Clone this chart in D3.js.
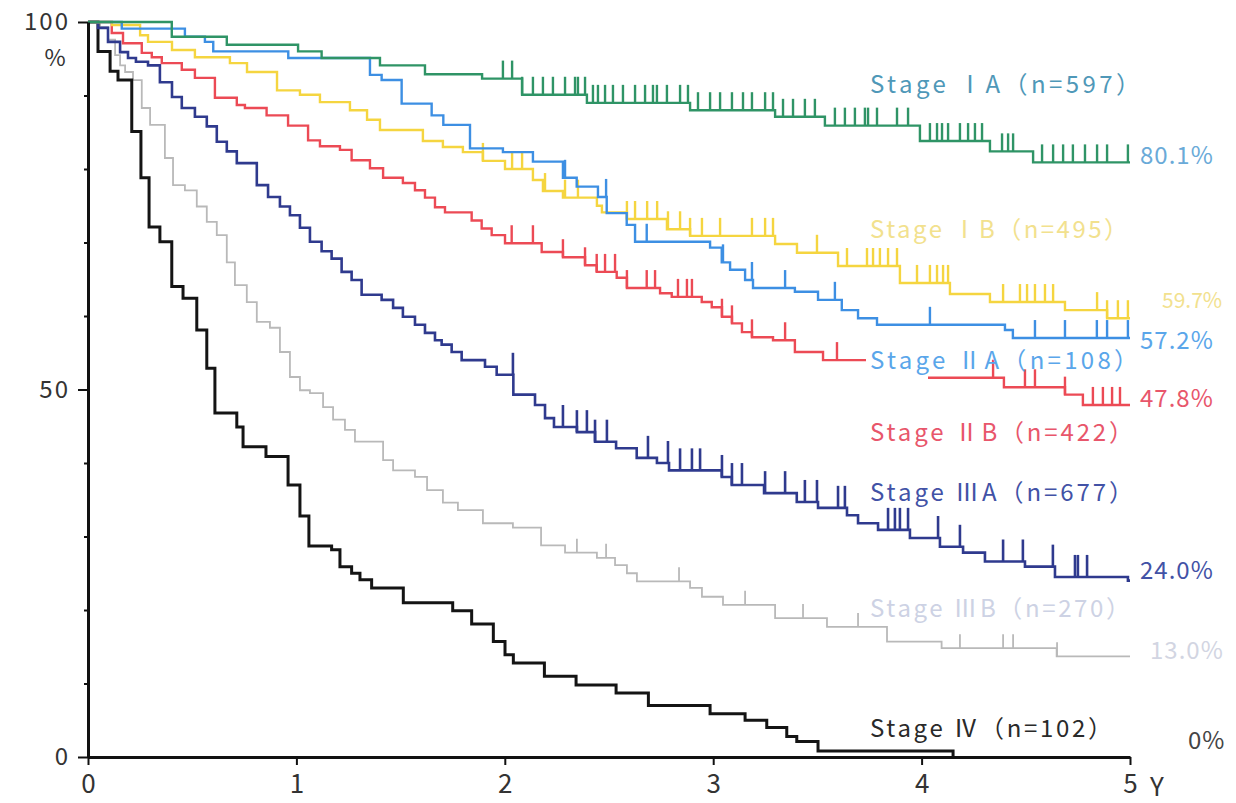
<!DOCTYPE html>
<html><head><meta charset="utf-8">
<script src="https://cdn.jsdelivr.net/npm/d3@7"></script>
<style>
html,body{margin:0;padding:0;background:#fff;}
svg{display:block;}
text{font-family:"Noto Sans CJK JP","Noto Sans",sans-serif;}
</style></head>
<body>
<svg id="chart" width="1236" height="803"></svg>
<script>
// ---- data (years, survival %) ----
const xTicks = [0, 1, 2, 3, 4, 5];
const yMajorTicks = [0, 50, 100];
const yMinorTicks = [10, 20, 30, 40, 60, 70, 80, 90];

const stageNames = ["Stage ⅠA", "Stage ⅠB", "Stage ⅡA", "Stage ⅡB", "Stage ⅢA", "Stage ⅢB", "Stage Ⅳ"];
const stageN = [597, 495, 108, 422, 677, 270, 102];
const stagePct = ["80.1%", "59.7%", "57.2%", "47.8%", "24.0%", "13.0%", "0%"];

const iaT = [0, 0.402, 0.666, 1.008, 1.121, 1.401, 1.617, 1.891, 2.083, 2.394, 2.889, 3.297, 3.536, 3.992, 4.328, 4.535];
const iaS = [100, 98.0, 96.9, 96.0, 95.1, 94.1, 92.9, 92.3, 90.1, 89.0, 88.0, 87.1, 85.9, 83.8, 82.4, 80.9];
const iaC = [1.991, 2.035, 2.083, 2.135, 2.183, 2.231, 2.289, 2.337, 2.351, 2.385, 2.423, 2.447, 2.481, 2.519, 2.567, 2.625, 2.673, 2.711, 2.730, 2.778, 2.841, 2.879, 2.927, 2.985, 3.033, 3.090, 3.143, 3.186, 3.249, 3.287, 3.335, 3.383, 3.440, 3.488, 3.584, 3.632, 3.680, 3.728, 3.743, 3.786, 3.882, 3.935, 4.040, 4.074, 4.098, 4.127, 4.184, 4.223, 4.256, 4.290, 4.386, 4.415, 4.439, 4.578, 4.631, 4.679, 4.726, 4.784, 4.842, 4.890, 4.990];

const ibT = [0, 0.115, 0.250, 0.288, 0.403, 0.513, 0.681, 0.763, 0.907, 1.017, 1.113, 1.257, 1.339, 1.401, 1.607, 1.703, 1.799, 1.895, 2.001, 2.135, 2.183, 2.279, 2.442, 2.466, 2.586, 2.778, 2.889, 3.297, 3.402, 3.599, 3.896, 4.136, 4.328, 4.688, 4.890];
const ibS = [100, 99.6, 98.2, 97.3, 96.2, 95.2, 94.4, 93.2, 90.7, 90.1, 89.1, 88.0, 86.7, 85.3, 83.8, 83.0, 82.3, 81.1, 80.0, 78.5, 77.0, 76.1, 75.0, 74.1, 73.2, 71.8, 70.9, 69.8, 68.6, 66.8, 64.5, 63.0, 61.9, 60.8, 59.7];
const ibC = [1.895, 2.035, 2.083, 2.193, 2.289, 2.351, 2.586, 2.625, 2.683, 2.731, 2.783, 2.841, 2.889, 2.946, 3.033, 3.186, 3.249, 3.287, 3.498, 3.642, 3.738, 3.767, 3.800, 3.839, 3.882, 3.978, 4.040, 4.074, 4.103, 4.127, 4.391, 4.472, 4.506, 4.544, 4.592, 4.631, 4.842, 4.890, 4.942, 4.990];

const iiaT = [0, 0.162, 0.465, 0.561, 0.601, 0.961, 1.353, 1.409, 1.505, 1.649, 1.705, 1.833, 1.991, 2.135, 2.279, 2.345, 2.447, 2.489, 2.585, 2.625, 2.985, 3.041, 3.081, 3.153, 3.191, 3.392, 3.503, 3.617, 3.695, 3.786, 4.400, 4.438];
const iiaS = [100, 99.1, 98.0, 97.3, 96.0, 95.1, 92.8, 92.1, 88.9, 87.3, 86.0, 82.8, 82.3, 81.0, 78.8, 77.6, 76.2, 74.0, 72.4, 70.1, 69.3, 67.3, 66.3, 64.9, 63.8, 63.3, 62.2, 60.8, 59.7, 58.8, 58.1, 57.0];
const iiaC = [2.289, 2.486, 2.681, 3.047, 3.186, 3.345, 3.584, 4.040, 4.544, 4.688, 4.841, 4.890, 4.990];

const iibT = [0, 0.114, 0.168, 0.258, 0.306, 0.354, 0.450, 0.513, 0.609, 0.714, 0.753, 0.857, 0.960, 1.056, 1.113, 1.209, 1.265, 1.353, 1.416, 1.511, 1.569, 1.617, 1.665, 1.713, 1.841, 1.889, 1.937, 2.001, 2.177, 2.279, 2.385, 2.441, 2.537, 2.586, 2.745, 2.801, 2.945, 2.993, 3.042, 3.090, 3.138, 3.186, 3.287, 3.392, 3.527, 3.920, 4.395, 4.688, 4.774];
const iibS = [100, 98.5, 97.1, 95.8, 95.2, 94.4, 93.5, 92.4, 89.7, 88.7, 88.3, 87.3, 85.9, 83.9, 83.1, 82.6, 81.2, 80.1, 78.8, 78.1, 77.1, 76.1, 74.8, 74.1, 73.0, 71.9, 71.0, 69.9, 68.7, 68.0, 66.9, 66.0, 65.2, 63.8, 63.1, 62.6, 61.9, 61.2, 59.9, 59.0, 57.8, 57.1, 56.7, 55.1, 54.0, 51.6, 50.3, 49.3, 47.9];
const iibC = [2.033, 2.135, 2.279, 2.385, 2.441, 2.481, 2.529, 2.586, 2.681, 2.721, 2.831, 2.874, 2.898, 3.042, 3.090, 3.186, 3.345, 3.594, 3.944, 4.343, 4.496, 4.544, 4.688, 4.822, 4.870, 4.914, 4.952];

const iiiaT = [0, 0.048, 0.096, 0.154, 0.192, 0.230, 0.288, 0.345, 0.403, 0.450, 0.513, 0.570, 0.618, 0.666, 0.714, 0.810, 0.864, 0.921, 0.969, 1.017, 1.065, 1.121, 1.169, 1.217, 1.265, 1.313, 1.409, 1.464, 1.511, 1.569, 1.617, 1.665, 1.697, 1.745, 1.793, 1.905, 1.961, 2.041, 2.145, 2.193, 2.236, 2.346, 2.433, 2.534, 2.633, 2.730, 2.788, 3.041, 3.089, 3.244, 3.401, 3.503, 3.642, 3.695, 3.791, 3.944, 4.088, 4.199, 4.304, 4.496, 4.640, 4.990];
const iiiaS = [100, 99.2, 97.3, 95.9, 95.1, 94.6, 94.1, 91.8, 89.8, 88.3, 87.1, 85.8, 83.7, 82.4, 80.8, 77.8, 76.2, 74.9, 73.7, 72.0, 70.1, 68.8, 67.8, 66.0, 64.9, 62.9, 62.2, 61.1, 59.9, 58.8, 57.7, 56.7, 56.1, 55.1, 54.0, 53.1, 52.0, 49.3, 47.9, 46.1, 44.9, 44.2, 42.9, 42.0, 40.7, 40.0, 39.0, 38.1, 37.0, 35.9, 34.7, 33.9, 32.9, 31.8, 30.9, 29.8, 28.6, 27.8, 26.6, 25.9, 24.5, 24.0];
const iiiaC = [2.039, 2.279, 2.346, 2.394, 2.433, 2.490, 2.687, 2.783, 2.841, 2.898, 2.937, 3.042, 3.090, 3.138, 3.249, 3.345, 3.440, 3.498, 3.599, 3.632, 3.839, 3.872, 3.896, 3.935, 4.079, 4.184, 4.391, 4.486, 4.630, 4.736, 4.750, 4.794];

const iiibT = [0, 0.058, 0.096, 0.130, 0.154, 0.178, 0.216, 0.258, 0.298, 0.369, 0.408, 0.465, 0.522, 0.570, 0.618, 0.666, 0.705, 0.762, 0.810, 0.873, 0.921, 0.969, 1.017, 1.065, 1.128, 1.176, 1.233, 1.281, 1.416, 1.464, 1.569, 1.627, 1.703, 1.775, 1.895, 2.039, 2.174, 2.289, 2.442, 2.529, 2.586, 2.634, 2.889, 2.946, 3.047, 3.297, 3.546, 3.834, 4.096, 4.648];
const iiibS = [100, 99.3, 97.6, 95.5, 94.1, 93.2, 92.1, 88.3, 86.0, 81.5, 77.8, 77.1, 74.9, 72.8, 71.0, 67.3, 64.2, 61.9, 59.2, 58.4, 55.1, 51.7, 49.9, 49.5, 47.6, 45.9, 44.5, 42.9, 40.4, 39.0, 38.1, 36.3, 34.6, 33.6, 31.8, 31.2, 28.8, 27.8, 27.1, 26.1, 25.0, 23.9, 23.0, 21.8, 20.7, 18.9, 17.7, 15.7, 14.8, 13.7];
const iiibC = [2.346, 2.486, 2.836, 3.153, 3.431, 3.695, 4.184, 4.391, 4.439, 4.650];

const ivT = [0, 0.048, 0.106, 0.144, 0.210, 0.254, 0.293, 0.345, 0.402, 0.456, 0.522, 0.570, 0.609, 0.714, 0.744, 0.854, 0.960, 1.017, 1.060, 1.169, 1.209, 1.265, 1.305, 1.361, 1.513, 1.750, 1.841, 1.945, 2.001, 2.041, 2.190, 2.342, 2.534, 2.689, 2.985, 3.153, 3.257, 3.353, 3.401, 3.503, 4.151];
const ivS = [100, 96.0, 93.3, 92.1, 85.1, 78.8, 72.1, 70.1, 64.0, 62.4, 58.1, 52.9, 46.8, 44.9, 42.2, 40.9, 37.0, 32.8, 28.7, 28.2, 25.9, 25.0, 24.1, 23.0, 21.0, 19.9, 18.1, 15.7, 13.9, 12.8, 11.0, 9.8, 8.7, 7.0, 5.9, 5.0, 4.0, 2.8, 2.1, 0.8, 0];
const ivC = [];

// ---- layout / style ----
const x = d3.scaleLinear().domain([0, 5]).range([88, 1130]);
const y = d3.scaleLinear().domain([0, 100]).range([757, 22]);
const svg = d3.select("#chart");

const series = [
  {t: iiibT, s: iiibS, c: iiibC, end: 5, color: "#b9b9b9", w: 1.8, tick: 14},
  {t: ivT, s: ivS, c: ivC, end: 4.151, color: "#141414", w: 3.0, tick: 18},
  {t: iiiaT, s: iiiaS, c: iiiaC, end: 5, color: "#2f3a8e", w: 2.6, tick: 22},
  {t: iibT, s: iibS, c: iibC, end: 5, color: "#ec4a55", w: 2.4, tick: 18},
  {t: ibT, s: ibS, c: ibC, end: 5, color: "#f5d540", w: 2.4, tick: 18},
  {t: iiaT, s: iiaS, c: iiaC, end: 5, color: "#3d8fe3", w: 2.4, tick: 18},
  {t: iaT, s: iaS, c: iaC, end: 5, color: "#2f9466", w: 2.4, tick: 18}
];

const line = d3.line().x(d => x(d[0])).y(d => y(d[1])).curve(d3.curveStepAfter);

function survAt(T, S, t) {
  let v = S[0];
  for (let i = 0; i < T.length; i++) { if (T[i] <= t) v = S[i]; else break; }
  return v;
}

series.forEach(sr => {
  const pts = sr.t.map((t, i) => [t, sr.s[i]]);
  if (sr.end > sr.t[sr.t.length - 1]) pts.push([sr.end, sr.s[sr.s.length - 1]]);
  svg.append("path").attr("d", line(pts)).attr("fill", "none")
    .attr("stroke", sr.color).attr("stroke-width", sr.w);
  svg.append("g").selectAll("line").data(sr.c).join("line")
    .attr("x1", d => x(d)).attr("x2", d => x(d))
    .attr("y1", d => y(survAt(sr.t, sr.s, d)))
    .attr("y2", d => y(survAt(sr.t, sr.s, d)) - sr.tick)
    .attr("stroke", sr.color).attr("stroke-width", sr.w);
});

// ---- axes ----
const yMajor = svg.append("g").attr("transform", "translate(88,0)")
  .call(d3.axisLeft(y).tickValues(yMajorTicks).tickSize(10).tickPadding(8).tickSizeOuter(0));
yMajor.select(".domain").attr("stroke", "#111").attr("stroke-width", 3);
yMajor.selectAll(".tick line").attr("stroke", "#111").attr("stroke-width", 2);
yMajor.selectAll(".tick text").attr("font-size", 24).attr("fill", "#333")
  .attr("letter-spacing", 2).style("font-family", "'Noto Sans CJK JP', sans-serif");

const yMinor = svg.append("g").attr("transform", "translate(88,0)")
  .call(d3.axisLeft(y).tickValues(yMinorTicks).tickSize(4).tickFormat("").tickSizeOuter(0));
yMinor.select(".domain").remove();
yMinor.selectAll(".tick line").attr("stroke", "#111").attr("stroke-width", 2);

svg.append("text").attr("x", 55).attr("y", 66).attr("text-anchor", "middle")
  .attr("font-size", 23).attr("fill", "#333").text("%");

const xAx = svg.append("g").attr("transform", "translate(0,757)")
  .call(d3.axisBottom(x).tickValues(xTicks).tickFormat(d3.format("d"))
    .tickSize(8).tickPadding(10).tickSizeOuter(0));
xAx.select(".domain").attr("stroke", "#111").attr("stroke-width", 3);
xAx.selectAll(".tick line").attr("stroke", "#111").attr("stroke-width", 2);
xAx.selectAll(".tick text").attr("font-size", 26).attr("fill", "#333")
  .style("font-family", "'Noto Sans CJK JP', sans-serif");
svg.append("text").attr("x", x(5) + 20).attr("y", 796).attr("font-size", 26)
  .attr("fill", "#333").text("Y");

// ---- labels ----
const labelColors = ["#4f98b8", "#f2e18e", "#5aa6ea", "#e8566b", "#4252a6", "#cdd2e4", "#2a2a2a"];
const pctColors = ["#6aaad8", "#f2e18e", "#5aa6ea", "#e8566b", "#4252a6", "#d2d5e2", "#444"];
const labelY = [93, 238, 369, 441, 501, 617, 737];
const labelLen = [270, 258, 268, 263, 263, 260, 242];
const pctX = [1140, 1162, 1140, 1140, 1140, 1150, 1188];
const pctY = [164, 308, 349, 407, 579, 659, 749];

// white backing for the IIA label (it hides the line underneath in the original)
svg.append("rect").attr("x", 866).attr("y", 346).attr("width", 62).attr("height", 36).attr("fill", "#fff");

stageNames.forEach((nm, i) => {
  svg.append("text").attr("x", 870).attr("y", labelY[i])
    .attr("font-size", 24).attr("fill", labelColors[i])
    .attr("textLength", labelLen[i]).attr("lengthAdjust", "spacing")
    .text(nm + "（n=" + stageN[i] + "）");
  svg.append("text").attr("x", pctX[i]).attr("y", pctY[i])
    .attr("font-size", i === 1 ? 21 : 24).attr("fill", pctColors[i])
    .attr("letter-spacing", i === 1 ? 0 : 1)
    .text(stagePct[i]);
});
</script>
</body></html>
